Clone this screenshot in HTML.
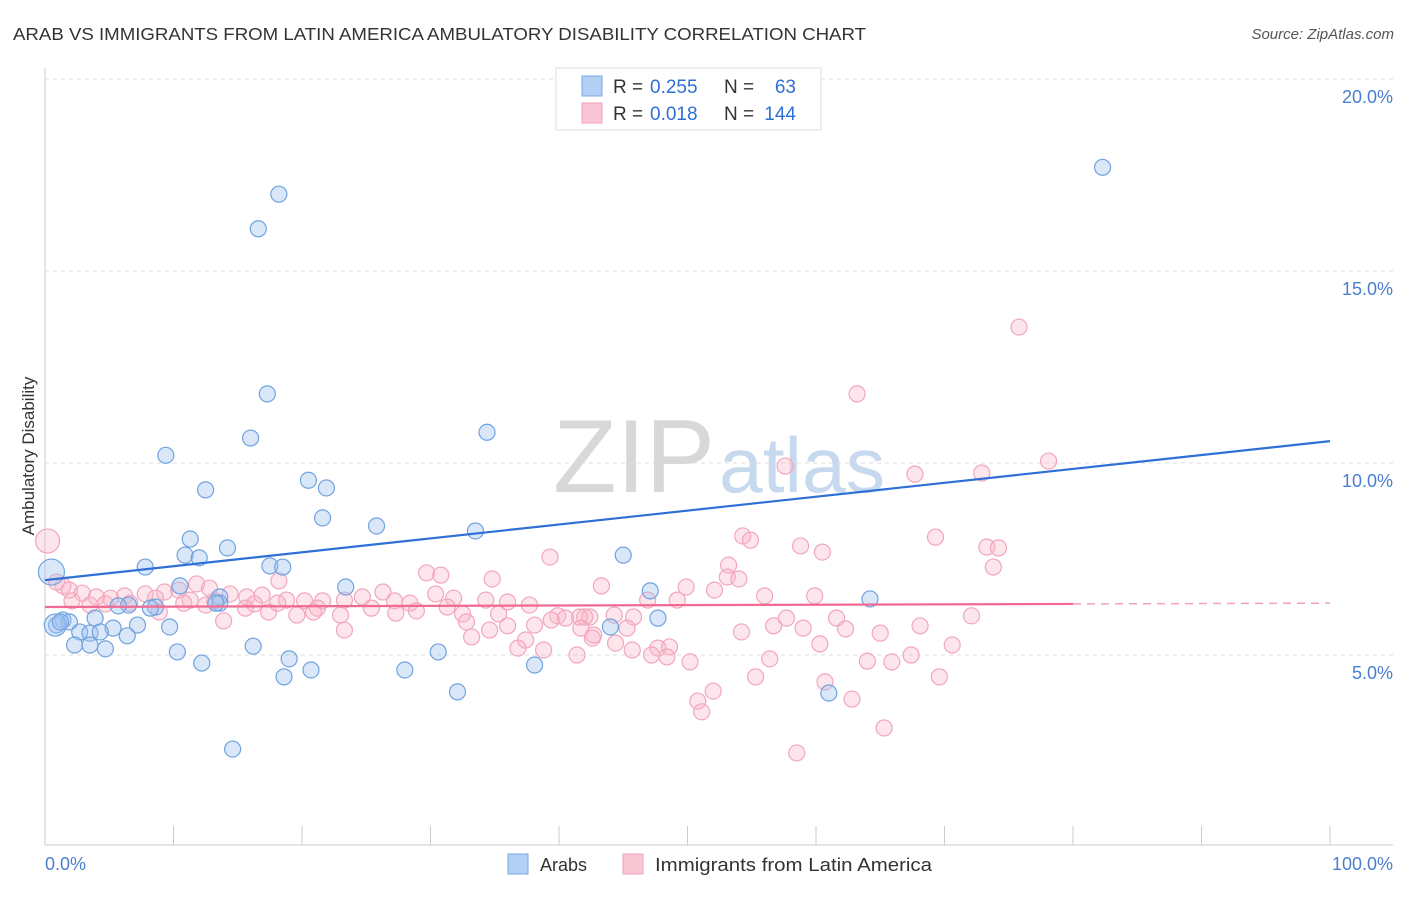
<!DOCTYPE html>
<html><head><meta charset="utf-8"><style>
body{margin:0;background:#fff;font-family:"Liberation Sans",sans-serif}
svg text{font-family:"Liberation Sans",sans-serif}
</style></head><body>
<svg width="1406" height="892" viewBox="0 0 1406 892" xmlns="http://www.w3.org/2000/svg">
<text x="13" y="40" font-size="17.5" fill="#333" textLength="853" lengthAdjust="spacingAndGlyphs">ARAB VS IMMIGRANTS FROM LATIN AMERICA AMBULATORY DISABILITY CORRELATION CHART</text>
<text x="1394" y="39" font-size="15" fill="#555" text-anchor="end" font-style="italic">Source: ZipAtlas.com</text>
<g>
<text x="553" y="492" font-size="104" fill="#d8d8d8" font-family="Liberation Serif" textLength="162" lengthAdjust="spacingAndGlyphs">ZIP</text>
<text x="719" y="492" font-size="78" fill="#c7d9ef" textLength="166" lengthAdjust="spacingAndGlyphs">atlas</text>
</g>
<g id="grid"></g>
<g id="axes"></g>
<text transform="translate(34,456) rotate(-90)" font-size="17" fill="#333" text-anchor="middle">Ambulatory Disability</text>
<g id="pts"></g>
<g id="lines"></g>
<g>
<rect x="556" y="68" width="265" height="62" fill="#fff" stroke="#ddd"/>
<rect x="582" y="76" width="20" height="20" fill="#b3cff3" stroke="#7aa8e6"/>
<rect x="582" y="103" width="20" height="20" fill="#f9c6d5" stroke="#f0a0b8"/>
<text x="613" y="93" font-size="19" fill="#333">R =</text>
<text x="650" y="93" font-size="19" fill="#2f6fd6">0.255</text>
<text x="724" y="93" font-size="19" fill="#333">N =</text>
<text x="796" y="93" font-size="19" fill="#2f6fd6" text-anchor="end">63</text>
<text x="613" y="120" font-size="19" fill="#333">R =</text>
<text x="650" y="120" font-size="19" fill="#2f6fd6">0.018</text>
<text x="724" y="120" font-size="19" fill="#333">N =</text>
<text x="796" y="120" font-size="19" fill="#2f6fd6" text-anchor="end">144</text>
</g>
<g>
<rect x="508" y="854" width="20" height="20" fill="#b3cff3" stroke="#7aa8e6"/>
<text x="540" y="871" font-size="18" fill="#333">Arabs</text>
<rect x="623" y="854" width="20" height="20" fill="#f9c6d5" stroke="#f0a0b8"/>
<text x="655" y="871" font-size="18" fill="#333" textLength="277" lengthAdjust="spacingAndGlyphs">Immigrants from Latin America</text>
</g>
</svg>
<script>
const yTicks=[5,10,15,20];
const yTickLabels=["5.0%","10.0%","15.0%","20.0%"];
const xTickLabels=["0.0%","100.0%"];
const blueX=[82.3,18.2,16.6,17.3,16.0,34.4,9.4,12.5,20.5,21.9,21.6,25.8,33.5,11.3,14.2,10.9,12.0,7.8,17.5,18.5,45.0,23.4,10.5,47.1,64.2,13.6,8.6,6.5,8.2,5.7,13.6,3.9,1.4,0.9,1.9,2.7,3.5,5.3,7.2,9.7,6.4,2.3,3.5,4.7,16.2,30.6,10.3,12.2,19.0,20.7,18.6,28.0,38.1,32.1,61.0,14.6,44.0,47.7,0.5,0.8,1.2,4.3,13.3];
const blueY=[17.7,17.0,16.1,11.8,10.65,10.8,10.2,9.3,9.55,9.35,8.57,8.36,8.23,8.02,7.79,7.6,7.53,7.29,7.32,7.29,7.6,6.77,6.8,6.67,6.46,6.51,6.25,6.3,6.22,6.28,6.35,5.96,5.91,5.78,5.86,5.6,5.57,5.7,5.78,5.73,5.5,5.26,5.26,5.16,5.23,5.08,5.08,4.79,4.9,4.61,4.43,4.61,4.74,4.04,4.01,2.55,5.73,5.96,7.16,5.78,5.86,5.6,6.35];
const pinkX=[75.8,63.2,78.1,57.6,67.7,72.9,69.3,54.3,54.9,73.3,74.2,58.8,60.5,39.3,53.2,73.8,0.2,29.7,30.8,34.8,18.2,53.1,54.0,43.3,49.9,52.1,1.4,0.9,1.9,2.9,4.0,5.1,6.2,7.8,9.3,10.4,11.8,12.8,14.4,15.7,16.9,18.8,20.2,21.6,23.3,24.7,26.3,27.2,28.4,30.4,31.8,34.3,36.0,37.7,39.9,41.6,42.4,44.3,46.9,49.2,56.0,59.9,6.6,8.6,11.3,13.2,15.6,17.4,19.6,21.2,23.0,25.4,27.3,28.9,31.3,32.5,35.3,39.4,40.5,42.0,45.8,2.1,3.5,4.7,8.9,10.8,12.5,13.9,16.3,18.1,23.3,20.9,32.8,34.6,38.1,41.7,42.6,44.4,45.7,47.7,48.6,33.2,36.0,37.4,36.8,38.8,41.4,42.7,45.3,47.2,48.4,50.2,56.7,59.0,61.6,62.3,65.0,68.1,72.1,57.7,54.2,56.4,60.3,64.0,65.9,67.4,70.6,55.3,60.7,62.8,69.6,52.0,50.8,51.1,65.3,58.5];
const pinkY=[13.54,11.8,10.05,9.92,9.71,9.74,8.07,8.1,7.99,7.81,7.79,7.84,7.68,7.55,7.34,7.29,7.97,7.14,7.08,6.98,6.93,7.03,6.98,6.8,6.77,6.69,6.8,6.9,6.69,6.61,6.51,6.48,6.54,6.59,6.64,6.69,6.85,6.74,6.59,6.51,6.56,6.43,6.41,6.41,6.43,6.51,6.64,6.41,6.35,6.59,6.48,6.43,6.38,6.3,6.02,5.99,5.99,6.04,6.43,6.43,6.54,6.54,6.35,6.48,6.43,6.41,6.22,6.12,6.04,6.22,6.04,6.22,6.09,6.15,6.25,6.07,6.07,5.91,5.96,5.99,5.99,6.41,6.3,6.33,6.12,6.35,6.3,5.89,6.33,6.35,5.65,6.12,5.86,5.65,5.78,5.7,5.44,5.31,5.13,5.18,5.21,5.47,5.76,5.39,5.18,5.13,5.0,5.52,5.7,5.0,4.95,4.82,5.76,5.7,5.96,5.68,5.57,5.76,6.02,5.96,5.6,4.9,5.29,4.84,4.82,5.0,5.26,4.43,4.3,3.85,4.43,4.06,3.8,3.52,3.1,2.45];
const blueTrend=[[0,6.95],[100,10.57]];
const pinkTrend=[[0,6.25],[80,6.33],[100,6.35]];
const NS="http://www.w3.org/2000/svg";
const xS=v=>45+v*12.85, yS=v=>847-v*38.4;
function mk(t,a,p){const e=document.createElementNS(NS,t);for(const k in a)e.setAttribute(k,a[k]);p.appendChild(e);return e;}
const grid=document.getElementById('grid'),axes=document.getElementById('axes');
yTicks.forEach((t,i)=>{
 const l=mk('line',{x1:45,x2:1393,y1:yS(t),y2:yS(t),stroke:'#ddd','stroke-dasharray':'4,4'},grid);
 
 
 const tx=mk('text',{x:1393,y:yS(t)+24,'font-size':18,fill:'#4a7fd0','text-anchor':'end'},axes);
 tx.textContent=yTickLabels[i];
 
 
});
mk('line',{x1:45,x2:45,y1:68,y2:845,stroke:'#ccc'},axes);
mk('line',{x1:45,x2:1393,y1:845,y2:845,stroke:'#ccc'},axes);
for(let i=0;i<=10;i++){const l=mk('line',{x1:xS(i*10),x2:xS(i*10),y1:826,y2:845,stroke:'#ccc'},axes);
 
 }
const xl=mk('text',{x:45,y:870,'font-size':18,fill:'#4a7fd0'},axes);xl.textContent=xTickLabels[0];


const xr=mk('text',{x:1393,y:870,'font-size':18,fill:'#4a7fd0','text-anchor':'end'},axes);xr.textContent=xTickLabels[1];


const pts=document.getElementById('pts');
pinkX.forEach((x,i)=>{const c=mk('circle',{cx:xS(x),cy:yS(pinkY[i]),r:i==16?12:8,fill:'rgba(248,180,200,0.35)',stroke:'#f2a6bd','stroke-width':1.2},pts);
 
 });
blueX.forEach((x,i)=>{const c=mk('circle',{cx:xS(x),cy:yS(blueY[i]),r:(i==58?13:(i==59?11:8)),fill:'rgba(160,195,240,0.4)',stroke:'#6fa3e0','stroke-width':1.2},pts);
 
 });
const lg=document.getElementById('lines');
const bl=mk('line',{x1:xS(blueTrend[0][0]),y1:yS(blueTrend[0][1]),x2:xS(blueTrend[1][0]),y2:yS(blueTrend[1][1]),stroke:'#2f6fd6','stroke-width':2.2},lg);


const pl=mk('line',{x1:xS(pinkTrend[0][0]),y1:yS(pinkTrend[0][1]),x2:xS(pinkTrend[1][0]),y2:yS(pinkTrend[1][1]),stroke:'#f06a92','stroke-width':2.2},lg);


const pd=mk('line',{x1:xS(pinkTrend[1][0]),y1:yS(pinkTrend[1][1]),x2:xS(pinkTrend[2][0]),y2:yS(pinkTrend[2][1]),stroke:'#f4a0b8','stroke-width':1.5,'stroke-dasharray':'8,6'},lg);


</script>
</body></html>
